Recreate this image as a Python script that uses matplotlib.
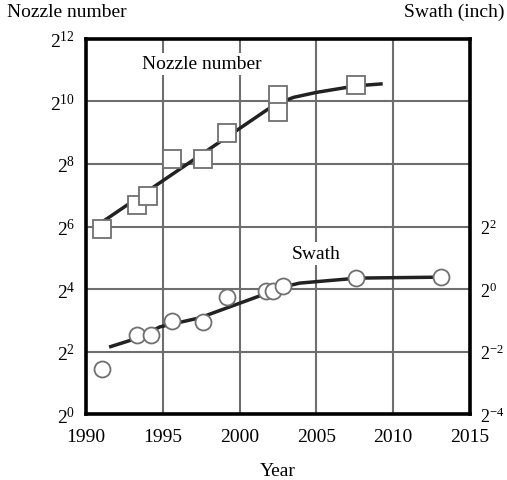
import numpy as np
import matplotlib.pyplot as plt

# Data (values on log2 axes)
nozzle_year = [1991.0, 1993.3, 1994.0, 1995.6, 1997.6, 1999.2, 2002.5, 2002.5, 2007.6]
nozzle_count = [61, 102, 126, 286, 286, 512, 1176, 803, 1489]

swath_year = [1991.0, 1993.3, 1994.2, 1995.6, 1997.6, 1999.2, 2001.7, 2002.2, 2002.8, 2007.6, 2013.1]
swath_inch = [0.17, 0.36, 0.36, 0.49, 0.48, 0.84, 0.96, 0.96, 1.07, 1.27, 1.30]

# hand-drawn trend curves
nozzle_fit_year = [1991.0, 2001.8, 2002.6, 2003.5, 2005.0, 2007.6, 2009.2]
nozzle_fit_exp = [6.13, 9.74, 9.96, 10.13, 10.29, 10.50, 10.56]

swath_fit_year = [1991.6, 1993.4, 1994.8, 1997.4, 2001.8, 2002.8, 2003.9, 2007.7, 2013.0]
swath_fit_exp = [-1.84, -1.56, -1.21, -0.92, -0.13, 0.06, 0.19, 0.35, 0.38]

left_ticks = [0, 2, 4, 6, 8, 10, 12]
right_ticks = [-4, -2, 0, 2]
year_ticks = [1990, 1995, 2000, 2005, 2010, 2015]

plt.rcParams['font.family'] = ['Liberation Serif', 'DejaVu Serif']
plt.rcParams['mathtext.fontset'] = 'custom'
plt.rcParams['mathtext.rm'] = 'Liberation Serif'
plt.rcParams['mathtext.it'] = 'Liberation Serif:italic'
plt.rcParams['font.size'] = 14

fig = plt.figure(figsize=(5.07, 4.81), dpi=100)
ax = fig.add_axes([0.170, 0.137, 0.757, 0.780])

ax.set_yscale('log', base=2)
ax.set_xlim(1990, 2015)
ax.set_ylim(2 ** 0, 2 ** 12)
ax.set_xticks(year_ticks)
ax.set_yticks([2.0 ** e for e in left_ticks])
ax.set_yticklabels(['$2^{%d}$' % e for e in left_ticks])
ax.minorticks_off()
ax.tick_params(length=0, pad=8)
ax.tick_params(axis='x', pad=10)
ax.grid(True, color='#6e6e6e', lw=1.5)
for s in ax.spines.values():
    s.set_linewidth(2.6)

ax2 = ax.twinx()
ax2.set_yscale('log', base=2)
ax2.set_ylim(2.0 ** -4, 2.0 ** 8)
ax2.set_yticks([2.0 ** e for e in right_ticks])
ax2.set_yticklabels(['$2^{%s}$' % (('-' + str(-e)) if e < 0 else str(e)) for e in right_ticks])
ax2.minorticks_off()
ax2.tick_params(length=0, pad=7, labelsize=13)
for s in ax2.spines.values():
    s.set_visible(False)

mk = dict(markerfacecolor='white', markeredgecolor='#707070', markeredgewidth=1.3, ls='none', zorder=5)

ax.plot(nozzle_fit_year, [2.0 ** e for e in nozzle_fit_exp], color='#222222', lw=2.5, zorder=4)
ax.plot(nozzle_year, nozzle_count, marker='s', markersize=12.5, **mk)

ax2.plot(swath_fit_year, [2.0 ** e for e in swath_fit_exp], color='#222222', lw=2.5, zorder=4)
ax2.plot(swath_year, swath_inch, marker='o', markersize=11.5, **mk)

box = dict(facecolor='white', edgecolor='none', pad=2)
ax.text(1997.55, 2 ** 11.2, 'Nozzle number', ha='center', va='center', bbox=box, zorder=6)
ax.text(2005.0, 2 ** 5.14, 'Swath', ha='center', va='center', bbox=box, zorder=6)

ax.set_xlabel('Year', labelpad=12)
fig.text(0.014, 0.975, 'Nozzle number', ha='left', va='center')
fig.text(0.996, 0.975, 'Swath (inch)', ha='right', va='center')

fig.savefig('out.png', dpi=100)
